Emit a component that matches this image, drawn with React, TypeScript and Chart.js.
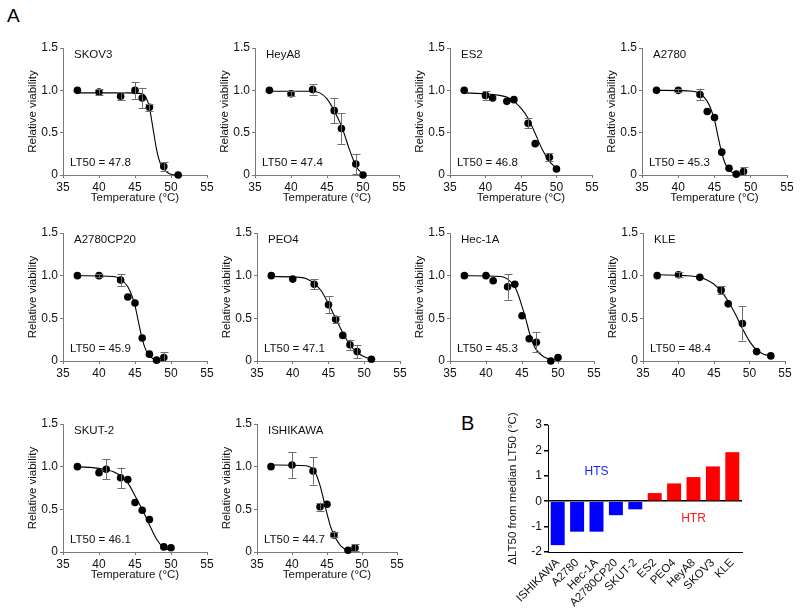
import React, { useEffect, useRef } from "react";
import { Chart, registerables } from "chart.js";
Chart.register(...registerables);

const FONT = "'Liberation Sans', Arial, Helvetica, sans-serif";
Chart.defaults.font.family = FONT;
Chart.defaults.font.size = 11;
Chart.defaults.color = "#111";

// ---------- DATA ----------
const skov3Temp = [37, 40, 43, 45, 46, 47, 49, 51];
const skov3Via = [1.0, 0.98, 0.93, 1.0, 0.91, 0.8, 0.1, 0.0];
const skov3Err = [0, 0.03, 0.05, 0.1, 0.12, 0.04, 0.05, 0];
const skov3FitT = [37, 44, 46, 46.5, 47, 47.5, 48, 48.5, 49, 49.5, 50, 51];
const skov3FitV = [0.97, 0.97, 0.96, 0.92, 0.8, 0.55, 0.3, 0.14, 0.07, 0.03, 0.01, 0];

const heya8Temp = [37, 40, 43, 46, 47, 49, 50];
const heya8Via = [1.0, 0.96, 1.01, 0.76, 0.55, 0.13, 0.0];
const heya8Err = [0, 0.03, 0.06, 0.15, 0.18, 0.12, 0];
const heya8FitT = [37, 43, 44, 45, 46, 47, 47.5, 48, 49, 49.5, 50];
const heya8FitV = [0.99, 0.99, 0.97, 0.9, 0.76, 0.58, 0.46, 0.33, 0.11, 0.05, 0.01];

const es2Temp = [37, 40, 41, 43, 44, 46, 47, 49, 50];
const es2Via = [1.0, 0.94, 0.91, 0.87, 0.89, 0.61, 0.37, 0.21, 0.07];
const es2Err = [0, 0.05, 0, 0, 0, 0.06, 0, 0.05, 0];
const es2FitT = [37, 40, 42, 43, 44, 45, 46, 47, 48, 49, 50];
const es2FitV = [0.97, 0.96, 0.94, 0.92, 0.87, 0.79, 0.67, 0.49, 0.3, 0.16, 0.08];

const a2780Temp = [37, 40, 43, 44, 45, 46, 47, 48, 49];
const a2780Via = [1.0, 1.0, 0.95, 0.75, 0.68, 0.27, 0.08, 0.01, 0.04];
const a2780Err = [0, 0.02, 0.07, 0, 0, 0, 0, 0, 0.05];
const a2780FitT = [37, 42, 43, 44, 44.5, 45, 45.5, 46, 46.5, 47, 48, 49];
const a2780FitV = [1.0, 0.99, 0.96, 0.87, 0.78, 0.65, 0.45, 0.26, 0.13, 0.06, 0.01, 0];

const cp20Temp = [37, 40, 43, 44, 45, 46, 47, 48, 49];
const cp20Via = [1.0, 1.0, 0.95, 0.75, 0.68, 0.27, 0.08, 0.01, 0.04];
const cp20Err = [0, 0.02, 0.07, 0, 0, 0, 0, 0, 0.06];
const cp20FitT = [37, 42, 43, 44, 44.5, 45, 45.5, 46, 46.5, 47, 48, 49];
const cp20FitV = [1.0, 0.99, 0.96, 0.87, 0.78, 0.65, 0.45, 0.26, 0.13, 0.06, 0.01, 0];

const peo4Temp = [37, 40, 43, 45, 46, 47, 48, 49, 51];
const peo4Via = [1.0, 0.96, 0.9, 0.66, 0.49, 0.3, 0.19, 0.11, 0.02];
const peo4Err = [0, 0, 0.06, 0.1, 0.04, 0, 0.06, 0.08, 0];
const peo4FitT = [37, 41, 42, 43, 44, 45, 46, 47, 48, 49, 50, 51];
const peo4FitV = [0.99, 0.98, 0.96, 0.91, 0.82, 0.67, 0.5, 0.33, 0.19, 0.1, 0.05, 0.02];

const hec1aTemp = [37, 40, 41, 43, 44, 45, 46, 47, 49, 50];
const hec1aVia = [1.0, 1.0, 0.94, 0.87, 0.9, 0.53, 0.26, 0.22, 0.0, 0.04];
const hec1aErr = [0, 0, 0, 0.15, 0, 0, 0, 0.12, 0, 0];
const hec1aFitT = [37, 42, 43, 44, 44.5, 45, 45.5, 46, 46.5, 47, 48, 49, 50];
const hec1aFitV = [1.0, 0.99, 0.96, 0.87, 0.77, 0.64, 0.5, 0.34, 0.21, 0.13, 0.05, 0.02, 0.01];

const kleTemp = [37, 40, 43, 46, 47, 49, 51, 53];
const kleVia = [1.0, 1.01, 0.98, 0.83, 0.67, 0.44, 0.11, 0.06];
const kleErr = [0, 0.03, 0, 0.05, 0, 0.2, 0, 0];
const kleFitT = [37, 41, 43, 44, 45, 46, 47, 48, 49, 50, 51, 52, 53];
const kleFitV = [1.01, 1.0, 0.98, 0.95, 0.9, 0.82, 0.7, 0.55, 0.38, 0.23, 0.13, 0.08, 0.06];

const skut2Temp = [37, 40, 41, 43, 44, 45, 46, 47, 49, 50];
const skut2Via = [1.0, 0.93, 0.97, 0.87, 0.85, 0.58, 0.49, 0.38, 0.06, 0.05];
const skut2Err = [0, 0, 0.12, 0.12, 0, 0, 0, 0, 0, 0];
const skut2FitT = [37, 40, 42, 43, 44, 45, 46, 47, 48, 49, 50];
const skut2FitV = [1.0, 0.98, 0.94, 0.89, 0.81, 0.66, 0.5, 0.32, 0.15, 0.05, 0.02];

const ishiTemp = [37, 40, 43, 44, 45, 46, 48, 49];
const ishiVia = [1.0, 1.02, 0.95, 0.53, 0.56, 0.2, 0.02, 0.05];
const ishiErr = [0, 0.15, 0.16, 0.05, 0, 0.03, 0, 0.04];
const ishiFitT = [37, 42, 43, 43.5, 44, 44.5, 45, 45.5, 46, 47, 48, 49];
const ishiFitV = [1.02, 1.01, 0.97, 0.9, 0.78, 0.62, 0.45, 0.3, 0.2, 0.07, 0.02, 0.01];

const cellNames = ["SKOV3", "HeyA8", "ES2", "A2780", "A2780CP20", "PEO4", "Hec-1A", "KLE", "SKUT-2", "ISHIKAWA"];
const lt50Values = ["47.8", "47.4", "46.8", "45.3", "45.9", "47.1", "45.3", "48.4", "46.1", "44.7"];

const barCells = ["ISHIKAWA", "A2780", "Hec-1A", "A2780CP20", "SKUT-2", "ES2", "PEO4", "HeyA8", "SKOV3", "KLE"];
const barDelta = [-1.73, -1.2, -1.2, -0.55, -0.32, 0.32, 0.7, 0.95, 1.37, 1.93];

const xTickMin = 35, xTickMax = 55, xTickStep = 5;
const yTickMin = 0, yTickMax = 1.5, yTickStep = 0.5;
const barTickMin = -2, barTickMax = 3, barTickStep = 1;

// ---------- panel table (built from arrays) ----------
const series = [
  [skov3Temp, skov3Via, skov3Err, skov3FitT, skov3FitV],
  [heya8Temp, heya8Via, heya8Err, heya8FitT, heya8FitV],
  [es2Temp, es2Via, es2Err, es2FitT, es2FitV],
  [a2780Temp, a2780Via, a2780Err, a2780FitT, a2780FitV],
  [cp20Temp, cp20Via, cp20Err, cp20FitT, cp20FitV],
  [peo4Temp, peo4Via, peo4Err, peo4FitT, peo4FitV],
  [hec1aTemp, hec1aVia, hec1aErr, hec1aFitT, hec1aFitV],
  [kleTemp, kleVia, kleErr, kleFitT, kleFitV],
  [skut2Temp, skut2Via, skut2Err, skut2FitT, skut2FitV],
  [ishiTemp, ishiVia, ishiErr, ishiFitT, ishiFitV],
];

// plot-area placement (layout only)
const layout = [
  { left: 63, top: 48, right: 207, bottom: 175, xTitle: true },
  { left: 255, top: 48, right: 399, bottom: 175, xTitle: true },
  { left: 450, top: 48, right: 592, bottom: 175, xTitle: true },
  { left: 642, top: 48, right: 787, bottom: 175, xTitle: true },
  { left: 63, top: 233, right: 207, bottom: 361, xTitle: false },
  { left: 257, top: 233, right: 400, bottom: 361, xTitle: false },
  { left: 450, top: 233, right: 594, bottom: 361, xTitle: false },
  { left: 643, top: 233, right: 785, bottom: 361, xTitle: false },
  { left: 63, top: 424, right: 207, bottom: 552, xTitle: true },
  { left: 257, top: 424, right: 397, bottom: 552, xTitle: true },
];

const AXIS_GRAY = "#7a7a7a";

const errorBarPlugin = {
  id: "errorBars",
  afterDatasetsDraw(chart: any) {
    const ds: any = chart.data.datasets[0];
    if (!ds || !ds.errors) return;
    const xs = chart.scales.x, ys = chart.scales.y;
    const ctx = chart.ctx;
    ctx.save();
    ctx.strokeStyle = "#6e6e6e";
    ctx.lineWidth = 1;
    ds.data.forEach((p: any, i: number) => {
      const e = ds.errors[i];
      if (!e) return;
      const px = Math.round(xs.getPixelForValue(p.x)) + 0.5;
      const t = ys.getPixelForValue(p.y + e);
      const b = ys.getPixelForValue(Math.max(p.y - e, 0));
      ctx.beginPath();
      ctx.moveTo(px, t); ctx.lineTo(px, b);
      ctx.moveTo(px - 4, Math.round(t) + 0.5); ctx.lineTo(px + 4, Math.round(t) + 0.5);
      ctx.moveTo(px - 4, Math.round(b) + 0.5); ctx.lineTo(px + 4, Math.round(b) + 0.5);
      ctx.stroke();
    });
    ctx.restore();
  },
};

const panelLabelPlugin = {
  id: "panelLabels",
  afterDraw(chart: any, _args: any, opts: any) {
    const { ctx, chartArea } = chart;
    ctx.save();
    ctx.font = `11.5px ${FONT}`;
    ctx.fillStyle = "#111";
    ctx.textAlign = "left";
    ctx.textBaseline = "middle";
    ctx.fillText(opts.name, chartArea.left + 11, chartArea.top + 6.5);
    ctx.fillText(`LT50 = ${opts.lt50}`, chartArea.left + 7, chartArea.bottom - 12);
    ctx.restore();
  },
};

const PAD_L = 41, PAD_T = 12, PAD_R = 10, PAD_B = 2, X_H = 34;

function CurvePanel({ idx }: { idx: number }) {
  const ref = useRef<HTMLCanvasElement | null>(null);
  const lay = layout[idx];
  const w = PAD_L + (lay.right - lay.left) + PAD_R;
  const h = PAD_T + (lay.bottom - lay.top) + X_H + PAD_B;
  useEffect(() => {
    const [tx, vy, err, ft, fv] = series[idx];
    const pts = tx.map((t, i) => ({ x: t, y: vy[i] }));
    const fit = ft.map((t, i) => ({ x: t, y: fv[i] }));
    const chart = new Chart(ref.current as HTMLCanvasElement, {
      type: "scatter",
      data: {
        datasets: [
          {
            data: pts,
            errors: err,
            pointRadius: 3.8,
            pointBackgroundColor: "#000",
            pointBorderColor: "#000",
            pointBorderWidth: 0,
            showLine: false,
            clip: false,
          } as any,
          {
            data: fit,
            showLine: true,
            borderColor: "#000",
            borderWidth: 1.1,
            pointRadius: 0,
            cubicInterpolationMode: "monotone",
            clip: false,
          } as any,
        ],
      },
      options: {
        animation: false,
        responsive: false,
        layout: { padding: { left: 0, top: PAD_T, right: PAD_R, bottom: PAD_B } },
        plugins: {
          legend: { display: false },
          tooltip: { enabled: false },
          panelLabels: { name: cellNames[idx], lt50: lt50Values[idx] },
        } as any,
        scales: {
          x: {
            type: "linear",
            min: xTickMin,
            max: xTickMax,
            ticks: { stepSize: xTickStep, padding: 2, maxRotation: 0, color: "#111", font: { size: 12 } },
            grid: { display: true, drawOnChartArea: false, drawTicks: true, tickLength: 3, color: AXIS_GRAY },
            border: { display: true, color: AXIS_GRAY, width: 1 },
            title: { display: lay.xTitle, text: "Temperature (°C)", color: "#111", font: { size: 11.5 }, padding: { top: 0, bottom: 4 } },
            afterFit: (s: any) => { s.height = X_H; },
          },
          y: {
            type: "linear",
            min: yTickMin,
            max: yTickMax,
            ticks: {
              stepSize: yTickStep,
              padding: 2,
              color: "#111",
              font: { size: 12 },
              callback: (v: any) => (Number(v) === 0 ? "0" : Number(v).toFixed(1)),
            },
            grid: { display: true, drawOnChartArea: false, drawTicks: true, tickLength: 3, color: AXIS_GRAY },
            border: { display: true, color: AXIS_GRAY, width: 1 },
            title: { display: true, text: "Relative viability", color: "#111", font: { size: 11.5 }, padding: { top: 4, bottom: 0 } },
            afterFit: (s: any) => { s.width = PAD_L; },
          },
        },
      },
      plugins: [errorBarPlugin, panelLabelPlugin],
    } as any);
    return () => chart.destroy();
  }, [idx]);
  return (
    <canvas
      ref={ref}
      width={w}
      height={h}
      style={{ position: "absolute", left: lay.left - PAD_L, top: lay.top - PAD_T, width: w, height: h }}
    />
  );
}

const barLayout = { left: 548, top: 425, right: 742, bottom: 552 };
const BAR_L = 46, BAR_T = 12, BAR_R = 8, BAR_XH = 56;

const groupLabelPlugin = {
  id: "groupLabels",
  afterDraw(chart: any) {
    const { ctx } = chart;
    const xs = chart.scales.x, ys = chart.scales.y;
    ctx.save();
    ctx.font = `12px ${FONT}`;
    ctx.textAlign = "center";
    ctx.textBaseline = "middle";
    ctx.fillStyle = "#1a1aff";
    ctx.fillText("HTS", xs.getPixelForValue(2), ys.getPixelForValue(1.15));
    ctx.fillStyle = "#ff1a1a";
    ctx.fillText("HTR", xs.getPixelForValue(7), ys.getPixelForValue(-0.68));
    ctx.restore();
  },
};

function BarPanel() {
  const ref = useRef<HTMLCanvasElement | null>(null);
  const w = BAR_L + (barLayout.right - barLayout.left) + BAR_R;
  const h = BAR_T + (barLayout.bottom - barLayout.top) + BAR_XH;
  useEffect(() => {
    const chart = new Chart(ref.current as HTMLCanvasElement, {
      type: "bar",
      data: {
        labels: barCells,
        datasets: [
          {
            data: barDelta,
            backgroundColor: barDelta.map((v) => (v < 0 ? "#0000ff" : "#ff0000")),
            borderWidth: 0,
            barPercentage: 0.72,
            categoryPercentage: 1,
          },
        ],
      },
      options: {
        animation: false,
        responsive: false,
        layout: { padding: { left: 0, top: BAR_T, right: BAR_R, bottom: 0 } },
        plugins: { legend: { display: false }, tooltip: { enabled: false } },
        scales: {
          x: {
            ticks: { autoSkip: false, maxRotation: 45, minRotation: 45, padding: 4, color: "#111", font: { size: 11.5 } },
            grid: { display: false, drawTicks: false },
            border: { display: true, color: "#000", width: 1 },
            afterFit: (s: any) => { s.height = BAR_XH; },
          },
          y: {
            min: barTickMin,
            max: barTickMax,
            ticks: { stepSize: barTickStep, padding: 2, color: "#111", font: { size: 12 } },
            grid: {
              display: true,
              drawOnChartArea: true,
              drawTicks: true,
              tickLength: 4,
              tickColor: "#000",
              lineWidth: 1.5,
              color: (c: any) => (c.tick && c.tick.value === 0 ? "#000" : "rgba(0,0,0,0)"),
            },
            border: { display: true, color: "#000", width: 1 },
            title: { display: true, text: "ΔLT50 from median LT50 (°C)", color: "#111", font: { size: 11.5 }, padding: { top: 4, bottom: 0 } },
            afterFit: (s: any) => { s.width = BAR_L; },
          },
        },
      },
      plugins: [groupLabelPlugin],
    } as any);
    return () => chart.destroy();
  }, []);
  return (
    <canvas
      ref={ref}
      width={w}
      height={h}
      style={{ position: "absolute", left: barLayout.left - BAR_L, top: barLayout.top - BAR_T, width: w, height: h }}
    />
  );
}

export default function App() {
  return (
    <div style={{ position: "absolute", left: 0, top: 0, width: 800, height: 610, background: "#fff", fontFamily: FONT, overflow: "hidden" }}>
      <div style={{ position: "absolute", left: 7, top: 6, fontSize: 19, lineHeight: "19px", color: "#000" }}>A</div>
      <div style={{ position: "absolute", left: 461, top: 413, fontSize: 20, lineHeight: "20px", color: "#000" }}>B</div>
      {series.map((_, i) => (
        <CurvePanel key={cellNames[i]} idx={i} />
      ))}
      <BarPanel />
    </div>
  );
}
